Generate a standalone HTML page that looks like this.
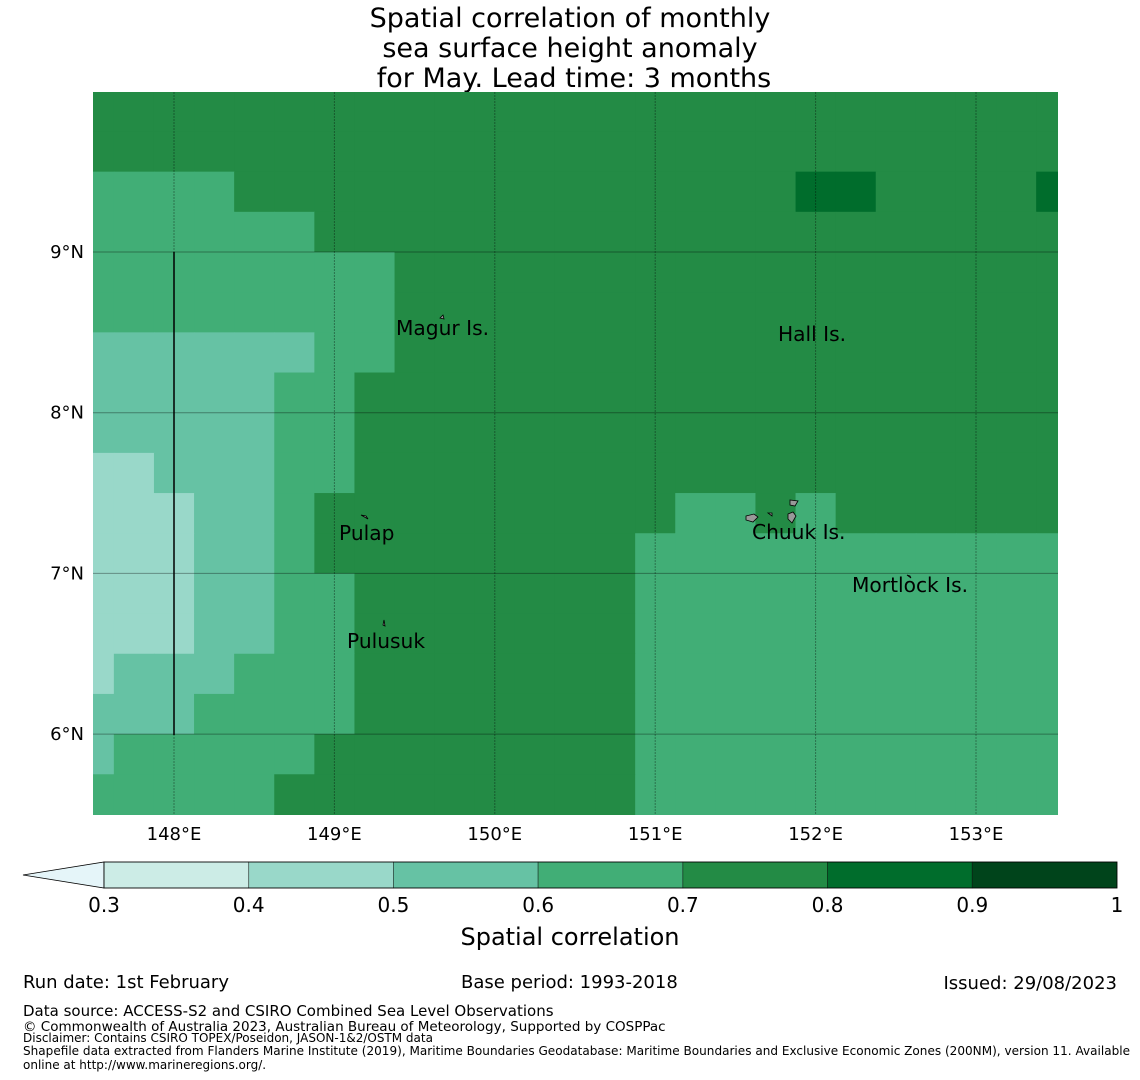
<!DOCTYPE html>
<html><head><meta charset="utf-8">
<style>
html,body{margin:0;padding:0;background:#fff;}
svg{display:block;font-family:"DejaVu Sans","Liberation Sans",sans-serif;}
</style></head>
<body>
<svg id="chart" width="1140" height="1080" viewBox="0 0 1140 1080" xmlns="http://www.w3.org/2000/svg">
<defs><clipPath id="mapclip"><rect x="93" y="92" width="965" height="723"/></clipPath></defs>
<g font-size="27" text-anchor="middle" fill="#000">
<text x="570" y="27">Spatial correlation of monthly</text>
<text x="570" y="57">sea surface height anomaly</text>
<text x="574" y="87">for May. Lead time: 3 months</text>
</g>
<g id="cells" clip-path="url(#mapclip)"></g>
<g id="grid"></g>
<line x1="174" y1="252" x2="174" y2="735" stroke="#000" stroke-width="1.5"/>
<g id="islands" fill="#999" stroke="#000" stroke-width="0.8">
<path d="M440,318 l3,-3 l1,4 z"/>
<path d="M361,515 l5,1 l2,3 z"/>
<path d="M384,620 l1,6 l-2,-1 z"/>
<path d="M790,500 l8,1 l-3,5 l-5,-1 z"/>
<path d="M746,516 l8,-2 l4,3 l-5,5 l-7,-2 z"/>
<path d="M788,514 l5,-2 l3,4 l-4,7 l-4,-4 z"/>
<path d="M768,513 l4,0 l0,3 z"/>
<path d="M907,575 l3,1 l1,2 z"/>
</g>
<g font-size="20.2" fill="#000">
<text x="396" y="335">Magur Is.</text>
<text x="778" y="341">Hall Is.</text>
<text x="339" y="540">Pulap</text>
<text x="752" y="539">Chuuk Is.</text>
<text x="852" y="592">Mortlock Is.</text>
<text x="347" y="648">Pulusuk</text>
</g>
<g id="axes" font-size="18" fill="#000"></g>
<g id="cbar"></g>
<text x="570" y="945" font-size="24" text-anchor="middle">Spatial correlation</text>
<g fill="#000">
<text x="23" y="988" font-size="18">Run date: 1st February</text>
<text x="461" y="988" font-size="18">Base period: 1993-2018</text>
<text x="1117" y="989" font-size="18" text-anchor="end">Issued: 29/08/2023</text>
<text x="23" y="1016" font-size="15">Data source: ACCESS-S2 and CSIRO Combined Sea Level Observations</text>
<text x="23" y="1031" font-size="13.5">© Commonwealth of Australia 2023, Australian Bureau of Meteorology, Supported by COSPPac</text>
<text x="23" y="1042" font-size="12">Disclaimer: Contains CSIRO TOPEX/Poseidon, JASON-1&amp;2/OSTM data</text>
<text x="23" y="1055" font-size="12" textLength="1107" lengthAdjust="spacingAndGlyphs">Shapefile data extracted from Flanders Marine Institute (2019), Maritime Boundaries Geodatabase: Maritime Boundaries and Exclusive Economic Zones (200NM), version 11. Available</text>
<text x="23" y="1069" font-size="12">online at http://www.marineregions.org/.</text>
</g>
</svg>
<script>
const lonEdges0 = 147.375; // first cell west edge
const latTop = 10.0;
const cellSize = 0.25;
const xTicks = [148, 149, 150, 151, 152, 153];
const xTickLabels = ["148°E", "149°E", "150°E", "151°E", "152°E", "153°E"];
const yTicks = [9, 8, 7, 6];
const yTickLabels = ["9°N", "8°N", "7°N", "6°N"];
const levels = [0.3, 0.4, 0.5, 0.6, 0.7, 0.8, 0.9, 1.0];
const levelColors = ["#ccece6", "#99d8c9", "#66c2a4", "#41ae76", "#238b45", "#006d2c", "#00441b"];
const underColor = "#e5f5f9";
const cbarTickLabels = ["0.3", "0.4", "0.5", "0.6", "0.7", "0.8", "0.9", "1"];
const row0 = [.75,.75,.75,.75,.75,.75,.75,.75,.75,.75,.75,.75,.75,.75,.75,.75,.75,.75,.75,.75,.75,.75,.75,.75,.75];
const row1 = [.75,.75,.75,.75,.75,.75,.75,.75,.75,.75,.75,.75,.75,.75,.75,.75,.75,.75,.75,.75,.75,.75,.75,.75,.75];
const row2 = [.65,.65,.65,.65,.75,.75,.75,.75,.75,.75,.75,.75,.75,.75,.75,.75,.75,.75,.85,.85,.75,.75,.75,.75,.85];
const row3 = [.65,.65,.65,.65,.65,.65,.75,.75,.75,.75,.75,.75,.75,.75,.75,.75,.75,.75,.75,.75,.75,.75,.75,.75,.75];
const row4 = [.65,.65,.65,.65,.65,.65,.65,.65,.75,.75,.75,.75,.75,.75,.75,.75,.75,.75,.75,.75,.75,.75,.75,.75,.75];
const row5 = [.65,.65,.65,.65,.65,.65,.65,.65,.75,.75,.75,.75,.75,.75,.75,.75,.75,.75,.75,.75,.75,.75,.75,.75,.75];
const row6 = [.55,.55,.55,.55,.55,.55,.65,.65,.75,.75,.75,.75,.75,.75,.75,.75,.75,.75,.75,.75,.75,.75,.75,.75,.75];
const row7 = [.55,.55,.55,.55,.55,.65,.65,.75,.75,.75,.75,.75,.75,.75,.75,.75,.75,.75,.75,.75,.75,.75,.75,.75,.75];
const row8 = [.55,.55,.55,.55,.55,.65,.65,.75,.75,.75,.75,.75,.75,.75,.75,.75,.75,.75,.75,.75,.75,.75,.75,.75,.75];
const row9 = [.45,.45,.55,.55,.55,.65,.65,.75,.75,.75,.75,.75,.75,.75,.75,.75,.75,.75,.75,.75,.75,.75,.75,.75,.75];
const row10 = [.45,.45,.45,.55,.55,.65,.75,.75,.75,.75,.75,.75,.75,.75,.75,.65,.65,.75,.65,.75,.75,.75,.75,.75,.75];
const row11 = [.45,.45,.45,.55,.55,.65,.75,.75,.75,.75,.75,.75,.75,.75,.65,.65,.65,.65,.65,.65,.65,.65,.65,.65,.65];
const row12 = [.45,.45,.45,.55,.55,.65,.65,.75,.75,.75,.75,.75,.75,.75,.65,.65,.65,.65,.65,.65,.65,.65,.65,.65,.65];
const row13 = [.45,.45,.45,.55,.55,.65,.65,.75,.75,.75,.75,.75,.75,.75,.65,.65,.65,.65,.65,.65,.65,.65,.65,.65,.65];
const row14 = [.45,.55,.55,.55,.65,.65,.65,.75,.75,.75,.75,.75,.75,.75,.65,.65,.65,.65,.65,.65,.65,.65,.65,.65,.65];
const row15 = [.55,.55,.55,.65,.65,.65,.65,.75,.75,.75,.75,.75,.75,.75,.65,.65,.65,.65,.65,.65,.65,.65,.65,.65,.65];
const row16 = [.55,.65,.65,.65,.65,.65,.75,.75,.75,.75,.75,.75,.75,.75,.65,.65,.65,.65,.65,.65,.65,.65,.65,.65,.65];
const row17 = [.65,.65,.65,.65,.65,.75,.75,.75,.75,.75,.75,.75,.75,.75,.65,.65,.65,.65,.65,.65,.65,.65,.65,.65,.65];
const gridValues = [row0,row1,row2,row3,row4,row5,row6,row7,row8,row9,row10,row11,row12,row13,row14,row15,row16,row17];

const NS = "http://www.w3.org/2000/svg";
function xScale(lon){ return 174 + (lon - 148) * 160.4; }
function yScale(lat){ return 252 + (9 - lat) * 160.7; }
function colorFor(v){
  if (v < levels[0]) return underColor;
  for (let i = 0; i < levelColors.length; i++) if (v >= levels[i] && v < levels[i+1]) return levelColors[i];
  return levelColors[levelColors.length-1];
}
function mk(tag, attrs, parent){
  const e = document.createElementNS(NS, tag);
  for (const k in attrs) e.setAttribute(k, attrs[k]);
  parent.appendChild(e); return e;
}
const cells = document.getElementById("cells");
gridValues.forEach((row, r) => {
  row.forEach((v, c) => {
    const lon0 = lonEdges0 + c*cellSize, lat0 = latTop - r*cellSize;
    const x0 = xScale(lon0), x1 = xScale(lon0 + cellSize);
    const y0 = yScale(lat0), y1 = yScale(lat0 - cellSize);
    const el = mk("rect", {x:x0, y:y0, width:x1-x0+0.6, height:y1-y0+0.6, fill:colorFor(v)}, cells);
    
    
  });
});
const grid = document.getElementById("grid");
const axes = document.getElementById("axes");
xTicks.forEach((t, i) => {
  const x = xScale(t);
  const l = mk("line", {x1:x, y1:92, x2:x, y2:815, stroke:"rgba(0,0,0,0.35)", "stroke-width":1, "stroke-dasharray":"2,1"}, grid);
  
  
  const tx = mk("text", {x:x, y:840, "text-anchor":"middle"}, axes);
  tx.textContent = xTickLabels[i];
  
  
});
yTicks.forEach((t, i) => {
  const y = yScale(t);
  const l = mk("line", {x1:93, y1:y, x2:1058, y2:y, stroke:"rgba(0,0,0,0.35)", "stroke-width":1}, grid);
  
  
  const tx = mk("text", {x:84, y:y+6, "text-anchor":"end"}, axes);
  tx.textContent = yTickLabels[i];
  
  
});
// colorbar
const cb = document.getElementById("cbar");
const cbX0 = 104, cbX1 = 1117, cbY = 862, cbH = 26;
function cbScale(v){ return cbX0 + (v - levels[0]) / (levels[levels.length-1] - levels[0]) * (cbX1 - cbX0); }
const tri = mk("polygon", {points:`${cbX0},${cbY} ${cbX0},${cbY+cbH} 23,${cbY+cbH/2}`, fill:underColor, stroke:"#000", "stroke-width":0.8}, cb);


levelColors.forEach((col, i) => {
  const a = cbScale(levels[i]), b = cbScale(levels[i+1]);
  const r = mk("rect", {x:a, y:cbY, width:b-a, height:cbH, fill:col, stroke:"rgba(0,0,0,0.5)", "stroke-width":0.8}, cb);
  
  
});
mk("rect", {x:cbX0, y:cbY, width:cbX1-cbX0, height:cbH, fill:"none", stroke:"#000", "stroke-width":0.8}, cb);
levels.forEach((v, i) => {
  const t = mk("text", {x:cbScale(v), y:912, "text-anchor":"middle", "font-size":20}, cb);
  t.textContent = cbarTickLabels[i];
  
  
});
</script>
</body></html>
